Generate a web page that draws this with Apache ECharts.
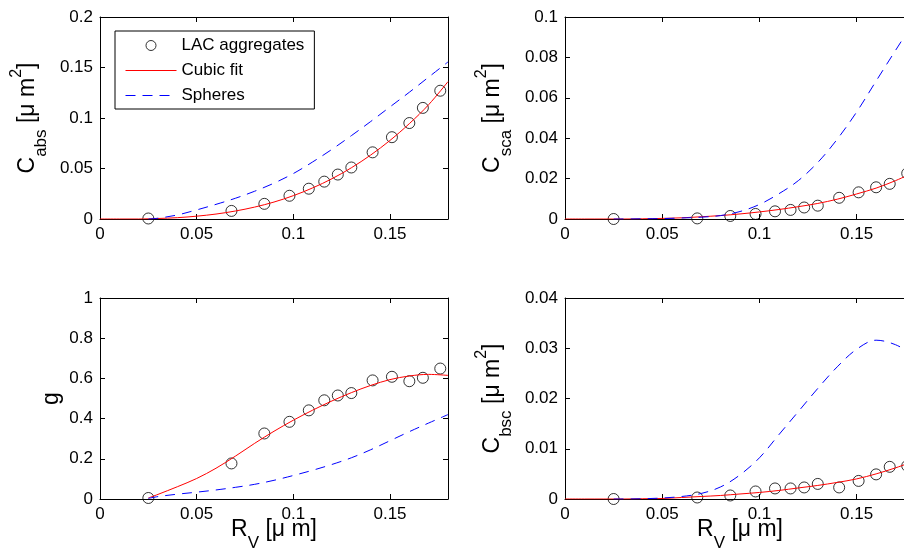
<!DOCTYPE html>
<html>
<head>
<meta charset="utf-8">
<script src="https://cdn.jsdelivr.net/npm/echarts@6/dist/echarts.min.js"></script>
<style>
  html, body { margin: 0; padding: 0; background: #fff; }
  #chart { width: 904px; height: 550px; }
</style>
</head>
<body>
<div id="chart"></div>
<script>
// Volume-equivalent radius of each aggregate [µm]
const rv = [0.025, 0.068, 0.085, 0.098, 0.108, 0.116, 0.123, 0.130, 0.141, 0.151, 0.160, 0.167, 0.176];

// Optical properties of the LAC aggregates
const cAbs  = [0.0005, 0.008, 0.015, 0.023, 0.030, 0.037, 0.044, 0.051, 0.066, 0.081, 0.095, 0.110, 0.127];
const cSca  = [0.0000, 0.0003, 0.0015, 0.0025, 0.0038, 0.0045, 0.0057, 0.0066, 0.0105, 0.0132, 0.0157, 0.0174, 0.0226];
const gAsym = [0.005, 0.177, 0.326, 0.384, 0.441, 0.491, 0.515, 0.527, 0.590, 0.608, 0.586, 0.603, 0.649];
const cBsc  = [0.0000, 0.0003, 0.0007, 0.0015, 0.0021, 0.0021, 0.0023, 0.0030, 0.0023, 0.0036, 0.0049, 0.0064, 0.0066];

// Radii at which the fitted and sphere curves are tabulated [µm]
const curveRv = [0, 0.01, 0.02, 0.025, 0.03, 0.04, 0.05, 0.06, 0.07, 0.08, 0.09, 0.10, 0.11, 0.12, 0.13, 0.14, 0.15, 0.16, 0.17, 0.18];

// Cubic fits to the aggregate results
const cAbsFit  = [0, 0, 0, 0.0002, 0.0005, 0.0013, 0.0028, 0.0049, 0.0079, 0.0118, 0.0168, 0.0231, 0.0308, 0.0399, 0.0507, 0.0633, 0.0778, 0.0944, 0.1132, 0.1360];
const cScaFit  = [0, 0, 0, 0, 0, 0.0001, 0.0003, 0.0006, 0.0011, 0.0017, 0.0025, 0.0035, 0.0047, 0.0061, 0.0077, 0.0098, 0.0124, 0.0153, 0.0190, 0.0233];
const gFit     = [null, null, null, 0.005, 0.023, 0.061, 0.102, 0.153, 0.213, 0.277, 0.337, 0.392, 0.442, 0.488, 0.529, 0.565, 0.594, 0.612, 0.620, 0.615];
const cBscFit  = [0, 0, 0, 0, 0, 0.00005, 0.0001, 0.0003, 0.0005, 0.0007, 0.0010, 0.0013, 0.0017, 0.0022, 0.0027, 0.0033, 0.0040, 0.0050, 0.0062, 0.0076];

// Equal-volume spheres
const cAbsSph  = [null, null, null, 0, 0.0008, 0.004, 0.009, 0.0145, 0.0205, 0.0275, 0.0355, 0.045, 0.0565, 0.069, 0.0825, 0.0965, 0.111, 0.1255, 0.1405, 0.1555];
const cScaSph  = [null, null, null, 0, 0, 0.0001, 0.0002, 0.0005, 0.0009, 0.0017, 0.0037, 0.0072, 0.0125, 0.019, 0.028, 0.0395, 0.053, 0.0683, 0.0835, 0.0985];
const gSph     = [null, null, null, 0.003, 0.012, 0.024, 0.034, 0.045, 0.058, 0.073, 0.093, 0.117, 0.143, 0.172, 0.205, 0.245, 0.290, 0.335, 0.378, 0.420];
const cBscSph  = [null, null, null, 0, 0, 0.00005, 0.0002, 0.0005, 0.0011, 0.0024, 0.0048, 0.0082, 0.0128, 0.0174, 0.0220, 0.0263, 0.0298, 0.0316, 0.0307, 0.0285];

// Axis ticks
const xTicks = { min: 0, max: 0.18, interval: 0.05 };
const yTicks = [
  { min: 0, max: 0.2,  interval: 0.05 },
  { min: 0, max: 0.1,  interval: 0.02 },
  { min: 0, max: 1,    interval: 0.2 },
  { min: 0, max: 0.04, interval: 0.01 }
];

// Axis titles (rich text: m = main, s = subscript, p = superscript)
const yTitles = [
  '{m|C}{s|abs}{m| [μ m}{p|2}{m|]}',
  '{m|C}{s|sca}{m| [μ m}{p|2}{m|]}',
  '{m|g}',
  '{m|C}{s|bsc}{m| [μ m}{p|2}{m|]}'
];
const xTitle = '{m|R}{s|V}{m| [μ m]}';
const seriesNames = ['LAC aggregates', 'Cubic fit', 'Spheres'];

const FONT = '"Liberation Sans", Arial, Helvetica, sans-serif';
const RED = '#ff0000';
const BLUE = '#0000ff';

// Panel layout
const panels = [
  { left: 100, top: 17,  width: 348, height: 202, pts: cAbs,  fit: cAbsFit, sph: cAbsSph, yGap: 50, xName: false },
  { left: 565, top: 17,  width: 350, height: 202, pts: cSca,  fit: cScaFit, sph: cScaSph, yGap: 50, xName: false },
  { left: 100, top: 298, width: 348, height: 201, pts: gAsym, fit: gFit,    sph: gSph,    yGap: 37, xName: true },
  { left: 565, top: 298, width: 350, height: 201, pts: cBsc,  fit: cBscFit, sph: cBscSph, yGap: 50, xName: true }
];

// All tokens hang from the top of the line; padding sets the baseline shifts.
const richStyles = {
  m: { fontSize: 23, fontFamily: FONT, color: '#000', verticalAlign: 'top', padding: [7, 0, 0, 0] },
  s: { fontSize: 17, fontFamily: FONT, color: '#000', verticalAlign: 'top', padding: [24, 0, 0, 0] },
  p: { fontSize: 16, fontFamily: FONT, color: '#000', verticalAlign: 'top', padding: [0, 0, 0, 0] }
};

const axisLineStyle = { show: true, onZero: false, lineStyle: { color: '#000', width: 1 } };
const tickStyle = { show: true, inside: true, length: 5, lineStyle: { color: '#000', width: 1 } };
const labelStyle = { color: '#000', fontSize: 17, fontFamily: FONT, margin: 7 };

const grid = [], xAxis = [], yAxis = [], series = [];

function pairs(xs, ys) {
  const out = [];
  xs.forEach((x, k) => { if (ys[k] != null) out.push([x, ys[k]]); });
  return out;
}

panels.forEach((p, i) => {
  grid.push({
    left: p.left, top: p.top, width: p.width, height: p.height,
    show: false, containLabel: false, outerBoundsMode: 'none'
  });

  xAxis.push({
    gridIndex: i, type: 'value', position: 'bottom',
    min: xTicks.min, max: xTicks.max, interval: xTicks.interval,
    axisLine: axisLineStyle, axisTick: tickStyle,
    axisLabel: Object.assign({ showMaxLabel: false }, labelStyle),
    splitLine: { show: false },
    name: p.xName ? xTitle : '', nameLocation: 'middle', nameGap: 12,
    nameMoveOverlap: false,
    nameTextStyle: { rich: richStyles }
  });
  xAxis.push({
    gridIndex: i, type: 'value', position: 'top',
    min: xTicks.min, max: xTicks.max, interval: xTicks.interval,
    axisLine: axisLineStyle, axisTick: tickStyle,
    axisLabel: { show: false }, splitLine: { show: false }
  });

  const yt = yTicks[i];
  yAxis.push({
    gridIndex: i, type: 'value', position: 'left',
    min: yt.min, max: yt.max, interval: yt.interval,
    axisLine: axisLineStyle, axisTick: tickStyle,
    axisLabel: labelStyle,
    splitLine: { show: false },
    name: yTitles[i], nameLocation: 'middle', nameRotate: 90, nameGap: p.yGap,
    nameMoveOverlap: false,
    nameTextStyle: { rich: richStyles }
  });
  yAxis.push({
    gridIndex: i, type: 'value', position: 'right',
    min: yt.min, max: yt.max, interval: yt.interval,
    axisLine: axisLineStyle, axisTick: tickStyle,
    axisLabel: { show: false }, splitLine: { show: false }
  });

  const ax = { xAxisIndex: 2 * i, yAxisIndex: 2 * i };
  series.push(Object.assign({
    type: 'scatter', name: seriesNames[0],
    data: pairs(rv, p.pts),
    symbol: 'circle', symbolSize: 11,
    itemStyle: { color: 'rgba(0,0,0,0)', borderColor: '#000', borderWidth: 1 },
    z: 3, silent: true
  }, ax));
  series.push(Object.assign({
    type: 'line', name: seriesNames[1],
    data: pairs(curveRv, p.fit),
    symbol: 'none', smooth: 0.35,
    lineStyle: { color: RED, width: 1 },
    itemStyle: { color: RED },
    z: 4, silent: true
  }, ax));
  series.push(Object.assign({
    type: 'line', name: seriesNames[2],
    data: pairs(curveRv, p.sph),
    symbol: 'none', smooth: 0.35,
    lineStyle: { color: BLUE, width: 1, type: [10, 7] },
    itemStyle: { color: BLUE },
    z: 4, silent: true
  }, ax));
});

// Line entries in the key show only their stroke, no marker
const hiddenMarker = { color: 'rgba(0,0,0,0)', borderWidth: 0, opacity: 0 };

const chart = echarts.init(document.getElementById('chart'), null, { renderer: 'canvas' });
chart.setOption({
  animation: false,
  backgroundColor: '#fff',
  grid, xAxis, yAxis, series,
  legend: {
    data: [
      { name: seriesNames[0] },
      { name: seriesNames[1], itemStyle: hiddenMarker },
      { name: seriesNames[2], itemStyle: hiddenMarker }
    ],
    orient: 'vertical',
    left: 115, top: 31,
    padding: [6, 10, 5, 10],
    itemWidth: 51, itemHeight: 10, itemGap: 8,
    borderColor: '#000', borderWidth: 1,
    backgroundColor: '#fff',
    selectedMode: false,
    itemStyle: { borderWidth: 1 },
    // key strokes follow each series' own line style
    lineStyle: {
      color: 'inherit', width: 'inherit', type: 'inherit',
      dashOffset: 'inherit', cap: 'inherit', join: 'inherit', opacity: 'inherit'
    },
    textStyle: { fontSize: 17, fontFamily: FONT, color: '#000', lineHeight: 17 }
  }
});
</script>
</body>
</html>
